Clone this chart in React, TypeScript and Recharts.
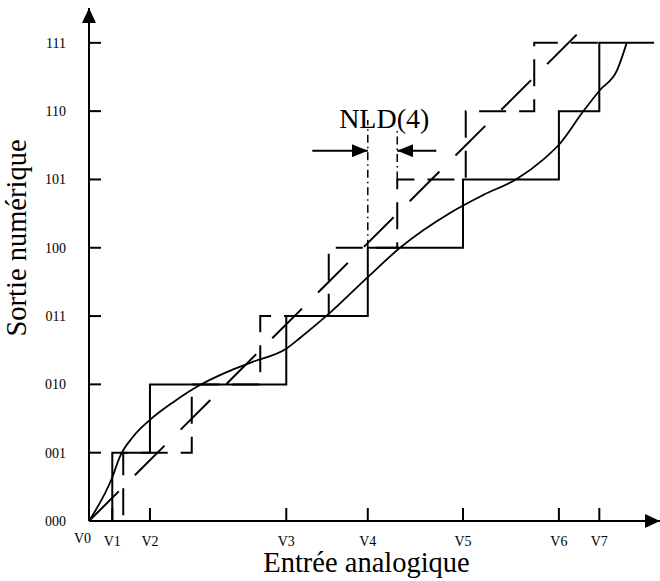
import { ComposedChart, Label, Line, ReferenceDot, ReferenceLine, XAxis, YAxis } from "recharts";

const FONT = "'Liberation Serif', 'Times New Roman', serif";

// axis ticks
const codeTicks = [0, 1, 2, 3, 4, 5, 6, 7];
const codeLabels = ["000", "001", "010", "011", "100", "101", "110", "111"];
const thresholdLabels = ["V0", "V1", "V2", "V3", "V4", "V5", "V6", "V7"];
const thresholds = [0, 0.34, 0.89, 2.88, 4.07, 5.46, 6.86, 7.45];

// axes run a bit past the last code so the arrows have room
const xMax = 8.336;
const yMax = 7.51;

// real converter: code changes at V1..V7
const realStepX = [0, 0.34, 0.89, 2.88, 4.07, 5.46, 6.86, 7.45, 8.25];
const realStepY = [0, 1, 2, 3, 4, 5, 6, 7, 7];

// ideal converter: code changes every LSB, offset by half a step
const idealStepX = [0, 0.5, 1.5, 2.5, 3.5, 4.5, 5.5, 6.5, 7.45];
const idealStepY = [0, 1, 2, 3, 4, 5, 6, 7, 7];

// ideal straight characteristic
const idealLineX = [0, 7.12];
const idealLineY = [0, 7.12];

// measured (non linear) characteristic
const curveX = [0, 0.34, 0.45, 0.64, 0.89, 1.23, 1.62, 2.01, 2.39, 2.89, 3.08, 3.52, 4.07, 4.54, 5.27, 5.75, 6.25, 6.63, 6.88, 7.21, 7.46, 7.71, 7.85];
const curveY = [0, 0.64, 0.94, 1.23, 1.48, 1.74, 1.99, 2.18, 2.33, 2.53, 2.68, 3.05, 3.57, 4.0, 4.51, 4.77, 5.01, 5.29, 5.53, 5.99, 6.31, 6.6, 7.0];

// NLD(4) annotation
const nldLineX = [4.07, 4.5];
const nldLineTop = [5.87, 5.72];
const nldLineBottom = [4.0, 5.0];
const nldArrowY = 5.42;
const nldArrowFrom = [3.26, 5.07];
const nldText = "NLD(4)";
const nldTextPos = { x: 4.31, y: 5.9 };

const zip = (xs: number[], ys: number[]) => xs.map((x, i) => ({ x, y: ys[i] }));

const realStep = zip(realStepX, realStepY);
const idealStep = zip(idealStepX, idealStepY);
const idealLine = zip(idealLineX, idealLineY);
const curve = zip(curveX, curveY);

function XTick(props: any) {
  const { x, y, index } = props;
  // V0 sits a little left of the origin and slightly higher
  const first = index === 0;
  return (
    <text x={x + (first ? -6.5 : 0)} y={y + (first ? 6 : 9)} textAnchor="middle" fontFamily={FONT} fontSize={14} fill="#000">
      {thresholdLabels[index]}
    </text>
  );
}

function XTitle(props: any) {
  const vb = props.viewBox;
  return (
    <text x={vb.x + vb.width / 2 - 8} y={vb.y + 51} textAnchor="middle" fontFamily={FONT} fontSize={28.5} fill="#000">
      Entrée analogique
    </text>
  );
}

function YTitle(props: any) {
  const vb = props.viewBox;
  const cx = vb.x + 26;
  const cy = vb.y + vb.height / 2 - 26.5;
  return (
    <text x={cx} y={cy} transform={`rotate(-90, ${cx}, ${cy})`} textAnchor="middle" fontFamily={FONT} fontSize={28.5} fill="#000">
      Sortie numérique
    </text>
  );
}

export default function App() {
  const axisStyle = { stroke: "#000", strokeWidth: 2 };
  return (
    <div style={{ position: "absolute", left: 0, top: 0, background: "#fff" }}>
      <ComposedChart width={660} height={581} margin={{ top: 8, right: 0, bottom: 0, left: 0 }}>
        <defs>
          <marker id="axisArrow" markerWidth="15" markerHeight="14" refX="15" refY="7" orient="auto-start-reverse" markerUnits="userSpaceOnUse">
            <path d="M0,0 L15,7 L0,14 Z" fill="#000" />
          </marker>
          <marker id="nldArrow" markerWidth="16" markerHeight="13" refX="16" refY="6.5" orient="auto" markerUnits="userSpaceOnUse">
            <path d="M0,0 L16,6.5 L0,13 Z" fill="#000" />
          </marker>
        </defs>
        <XAxis
          type="number"
          dataKey="x"
          domain={[0, xMax]}
          allowDataOverflow
          ticks={thresholds}
          interval={0}
          height={60}
          axisLine={{ ...axisStyle, markerEnd: "url(#axisArrow)" }}
          tickLine={axisStyle}
          tickSize={-13}
          tickMargin={29}
          tick={<XTick />}
        >
          <Label content={<XTitle />} />
        </XAxis>
        <YAxis
          type="number"
          dataKey="y"
          domain={[0, yMax]}
          allowDataOverflow
          ticks={codeTicks}
          interval={0}
          width={89}
          axisLine={{ ...axisStyle, markerStart: "url(#axisArrow)" }}
          tickLine={axisStyle}
          tickSize={-12}
          tickMargin={35}
          tickFormatter={(v: number) => codeLabels[v]}
          tick={{ fill: "#000", fontSize: 14, fontFamily: FONT }}
        >
          <Label content={<YTitle />} />
        </YAxis>

        <Line data={idealLine} dataKey="y" type="linear" stroke="#000" strokeWidth={2} strokeDasharray="42 22.7" dot={false} activeDot={false} isAnimationActive={false} />
        <Line data={idealStep} dataKey="y" type="stepAfter" stroke="#000" strokeWidth={2} strokeDasharray="27 13" dot={false} activeDot={false} isAnimationActive={false} />
        <Line data={realStep} dataKey="y" type="stepAfter" stroke="#000" strokeWidth={2} dot={false} activeDot={false} isAnimationActive={false} />
        <Line data={curve} dataKey="y" type="monotone" stroke="#000" strokeWidth={1.8} dot={false} activeDot={false} isAnimationActive={false} />

        {nldLineX.map((x, i) => (
          <ReferenceLine
            key={`nld-${i}`}
            segment={[{ x, y: nldLineBottom[i] }, { x, y: nldLineTop[i] }]}
            stroke="#000"
            strokeWidth={1.5}
            strokeDasharray="8 4 1.5 4"
          />
        ))}
        {nldLineX.map((x, i) => (
          <ReferenceLine
            key={`arrow-${i}`}
            segment={[{ x: nldArrowFrom[i], y: nldArrowY }, { x, y: nldArrowY }]}
            stroke="#000"
            strokeWidth={2}
            markerEnd="url(#nldArrow)"
          />
        ))}
        <ReferenceDot
          x={nldTextPos.x}
          y={nldTextPos.y}
          r={0}
          fill="none"
          stroke="none"
          label={{ value: nldText, position: "center", fontSize: 28, fontFamily: FONT, fill: "#000" }}
        />
      </ComposedChart>
    </div>
  );
}
